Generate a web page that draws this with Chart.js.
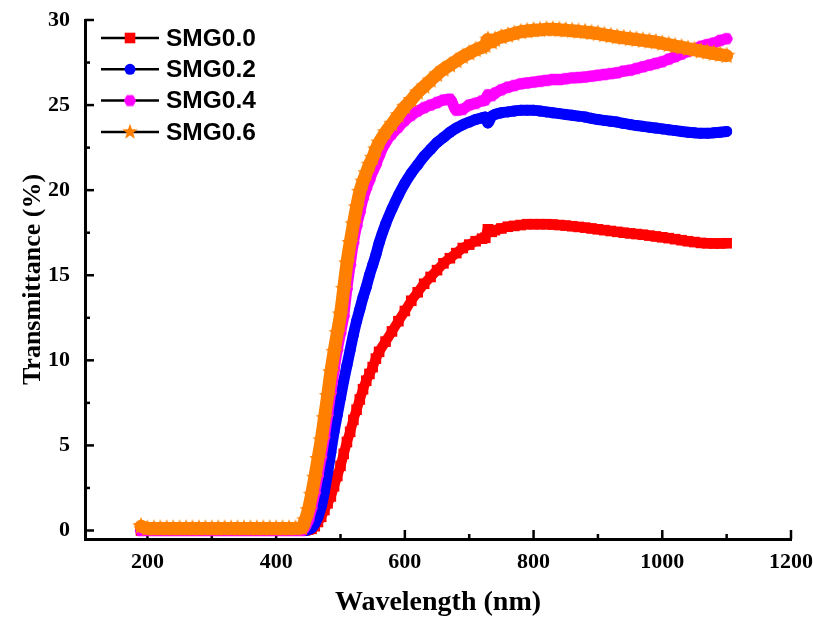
<!DOCTYPE html>
<html><head><meta charset="utf-8">
<script src="https://cdn.jsdelivr.net/npm/chart.js@4.4.1/dist/chart.umd.min.js"></script>
<style>html,body{margin:0;padding:0;background:#fff;}#wrap{width:813px;height:617px;}</style>
</head><body><div id="wrap"><canvas id="c" width="813" height="617"></canvas></div>
<script>
const seriesNames = ['SMG0.0', 'SMG0.2', 'SMG0.4', 'SMG0.6'];
const X_TICKS = [200, 400, 600, 800, 1000, 1200];
const X_MINOR = [300, 500, 700, 900, 1100];
const Y_TICKS = [0, 5, 10, 15, 20, 25, 30];
const Y_MINOR = [2.5, 7.5, 12.5, 17.5, 22.5, 27.5];

const wavelengths = [
  190,200,210,220,230,240,250,260,270,280,290,300,310,320,330,340,350,360,370,380,390,400,410,420,430,440,
  445,450,455,460,465,470,475,480,485,490,495,500,505,510,515,520,525,530,535,540,545,550,555,560,
  570,580,590,600,610,620,630,640,650,660,670,680,690,700,710,720,
  725,729,735,
  740,750,760,770,780,790,800,810,820,830,840,850,860,870,880,890,900,910,920,930,940,950,960,970,980,990,1000,1010,1020,1030,1040,1050,1060,1070,1080,1090,1100
];

const smg00 = [
  0,0,0,0,0,0,0,0,0,0,0,0,0,0,0,0,0,0,0,0,0,0,0,0,0,0,
  0.0,0.05,0.1,0.25,0.5,0.8,1.2,1.6,2.0,2.6,3.2,3.8,4.5,5.2,5.8,6.5,7.1,7.7,8.3,8.8,9.2,9.6,10.1,10.5,
  11.1,11.7,12.3,12.9,13.5,14.0,14.5,14.9,15.3,15.7,16.0,16.3,16.6,16.8,17.0,17.15,
  17.2,17.7,17.55,
  17.65,17.75,17.85,17.9,17.95,18.0,18.0,18.0,18.0,17.98,17.95,17.92,17.88,17.84,17.8,17.75,17.7,17.65,17.6,17.55,17.5,17.46,17.42,17.38,17.33,17.28,17.23,17.18,17.12,17.06,17.0,16.95,16.9,16.88,16.87,16.87,16.88
];

const smg02 = [
  0,0,0,0,0,0,0,0,0,0,0,0,0,0,0,0,0,0,0,0,0,0,0,0,0,0,
  0.0,0.05,0.15,0.4,0.8,1.4,2.3,3.4,4.6,5.8,6.8,7.8,8.8,9.7,10.6,11.5,12.3,13.0,13.7,14.3,15.0,15.6,16.2,16.9,
  18.0,18.9,19.7,20.4,21.0,21.5,22.0,22.4,22.8,23.1,23.4,23.65,23.85,24.0,24.15,24.25,
  24.3,23.95,24.35,
  24.45,24.55,24.6,24.65,24.7,24.7,24.7,24.65,24.6,24.55,24.5,24.45,24.4,24.35,24.3,24.22,24.15,24.1,24.05,24.0,23.92,23.86,23.8,23.75,23.7,23.65,23.6,23.55,23.5,23.45,23.4,23.37,23.35,23.35,23.37,23.4,23.45
];

const smg04 = [
  0,0,0,0,0,0,0,0,0,0,0,0,0,0,0,0,0,0,0,0,0,0,0,0,0,0,
  0.2,0.6,1.3,2.2,3.2,4.3,5.5,6.8,8.1,9.4,10.6,11.6,12.6,14.2,15.6,16.9,17.9,18.7,19.5,20.1,20.6,21.1,21.5,22.0,
  22.8,23.3,23.7,24.1,24.4,24.65,24.85,25.0,25.15,25.3,25.35,24.7,24.75,25.0,25.1,25.25,
  25.3,25.6,25.55,
  25.7,25.9,26.05,26.15,26.25,26.3,26.35,26.4,26.45,26.5,26.5,26.55,26.6,26.62,26.65,26.7,26.75,26.8,26.85,26.9,27.0,27.05,27.15,27.25,27.35,27.45,27.55,27.7,27.85,28.0,28.15,28.3,28.45,28.55,28.65,28.8,28.9
];

const smg06 = [
  0.25,0.12,0.12,0.12,0.12,0.12,0.12,0.12,0.12,0.12,0.12,0.12,0.12,0.12,0.12,0.12,0.12,0.12,0.12,0.12,0.12,0.12,0.12,0.12,0.12,0.15,
  0.6,1.2,2.1,3.1,4.2,5.3,6.6,7.9,9.3,10.5,11.6,12.7,14.2,15.7,16.9,18.0,19.0,19.9,20.5,21.0,21.5,21.9,22.4,22.8,
  23.4,23.9,24.4,24.9,25.3,25.75,26.1,26.45,26.8,27.1,27.35,27.6,27.85,28.05,28.25,28.4,
  28.5,28.85,28.7,
  28.85,29.0,29.1,29.2,29.3,29.35,29.4,29.42,29.45,29.45,29.43,29.4,29.37,29.33,29.3,29.25,29.2,29.13,29.07,29.0,28.95,28.9,28.85,28.8,28.75,28.7,28.62,28.55,28.47,28.4,28.32,28.25,28.17,28.1,28.03,27.97,27.9
];

const seriesValues = [smg00, smg02, smg04, smg06];
const seriesColors = ['#FF0000', '#0000FF', '#FF00FF', '#FF8000'];

function starPath(g, cx, cy, R, r) {
  g.beginPath();
  for (let i = 0; i < 10; i++) {
    const a = -Math.PI / 2 + i * Math.PI / 5;
    const rad = i % 2 ? r : R;
    g.lineTo(cx + rad * Math.cos(a), cy + rad * Math.sin(a));
  }
  g.closePath();
}
function hexPath(g, cx, cy, R) {
  g.beginPath();
  for (let i = 0; i < 6; i++) {
    const a = i * Math.PI / 3;
    g.lineTo(cx + R * Math.cos(a), cy + R * Math.sin(a));
  }
  g.closePath();
}
function makeImg(size, fn) {
  const c = document.createElement('canvas');
  c.width = size; c.height = size;
  fn(c.getContext('2d'), size / 2, size / 2);
  return c;
}
const starImg = makeImg(20, (g, cx, cy) => { starPath(g, cx, cy, 9.2, 3.9); g.fillStyle = seriesColors[3]; g.fill(); });
const hexImg = makeImg(14, (g, cx, cy) => { hexPath(g, cx, cy, 6.3); g.fillStyle = seriesColors[2]; g.fill(); });
const starLegendImg = makeImg(18, (g, cx, cy) => { starPath(g, cx, cy, 8.2, 3.4); g.fillStyle = seriesColors[3]; g.fill(); });

const pointStyles = ['rect', 'circle', hexImg, starImg];
const legendStyles = ['rect', 'circle', hexImg, starLegendImg];
const pointRadii = [7.5, 5.5, 6, 8];
const lineWidths = [10, 11, 11, 13];
const drawOrder = [3, 2, 1, 0];

const datasets = seriesNames.map((name, i) => ({
  label: name,
  data: wavelengths.map((w, k) => ({ x: w, y: seriesValues[i][k] })),
  borderColor: seriesColors[i],
  backgroundColor: seriesColors[i],
  borderWidth: lineWidths[i],
  borderJoinStyle: 'round',
  borderCapStyle: 'round',
  pointStyle: pointStyles[i],
  pointRadius: pointRadii[i],
  pointBackgroundColor: seriesColors[i],
  pointBorderWidth: 0,
  cubicInterpolationMode: 'monotone',
  fill: false,
  order: drawOrder[i]
}));

const innerTicks = {
  id: 'innerTicks',
  beforeDatasetsDraw(chart) {
    const { ctx, chartArea: a, scales: { x, y } } = chart;
    ctx.save();
    ctx.strokeStyle = '#000';
    ctx.lineWidth = 2.5;
    const seg = (x1, y1, x2, y2) => { ctx.beginPath(); ctx.moveTo(x1, y1); ctx.lineTo(x2, y2); ctx.stroke(); };
    X_TICKS.forEach(v => { const p = x.getPixelForValue(v); seg(p, a.bottom, p, a.bottom - 9); });
    X_MINOR.forEach(v => { const p = x.getPixelForValue(v); seg(p, a.bottom, p, a.bottom - 5); });
    Y_TICKS.forEach(v => { const p = y.getPixelForValue(v); seg(a.left, p, a.left + 9, p); });
    Y_MINOR.forEach(v => { const p = y.getPixelForValue(v); seg(a.left, p, a.left + 5, p); });
    ctx.restore();
  }
};

const boxLegend = {
  id: 'boxLegend',
  afterDatasetsDraw(chart) {
    const { ctx, chartArea: a } = chart;
    ctx.save();
    chart.data.datasets.forEach((ds, i) => {
      const yy = a.top + 18 + i * 31.3;
      const x0 = a.left + 16, x1 = a.left + 74, xm = a.left + 45;
      ctx.strokeStyle = '#000';
      ctx.lineWidth = 2.5;
      ctx.beginPath(); ctx.moveTo(x0, yy); ctx.lineTo(x1, yy); ctx.stroke();
      ctx.fillStyle = seriesColors[i];
      const st = legendStyles[i];
      if (st === 'rect') {
        ctx.fillRect(xm - 5.3, yy - 5.3, 10.6, 10.6);
      } else if (st === 'circle') {
        ctx.beginPath(); ctx.arc(xm, yy, 5.5, 0, Math.PI * 2); ctx.fill();
      } else {
        ctx.drawImage(st, xm - st.width / 2, yy - st.height / 2);
      }
      ctx.fillStyle = '#000';
      ctx.font = 'bold 24.5px "Liberation Sans", Arial, sans-serif';
      ctx.textAlign = 'left';
      ctx.textBaseline = 'middle';
      ctx.fillText(ds.label, a.left + 81, yy + 1);
    });
    ctx.restore();
  }
};

const serif = '"Liberation Serif", "Times New Roman", serif';

new Chart(document.getElementById('c'), {
  type: 'line',
  data: { datasets },
  options: {
    responsive: false,
    animation: false,
    devicePixelRatio: 1,
    events: [],
    layout: { padding: { left: 18, right: 22, top: 20, bottom: 0 } },
    plugins: { legend: { display: false }, tooltip: { enabled: false } },
    scales: {
      x: {
        type: 'linear', min: 103, max: 1200,
        afterBuildTicks: s => { s.ticks = X_TICKS.map(v => ({ value: v })); },
        afterFit: s => { s.height = 78; s.paddingLeft = 0; s.paddingRight = 0; },
        grid: { display: false, drawTicks: false },
        border: { display: true, color: '#000', width: 3 },
        ticks: { color: '#000', padding: 10, maxRotation: 0, autoSkip: false,
                 font: { family: serif, size: 22, weight: 'bold' }, callback: v => String(v) },
        title: { display: true, text: 'Wavelength (nm)', color: '#000', padding: { top: 0, bottom: 0 },
                 font: { family: serif, size: 28, weight: 'bold', lineHeight: 1.05 } }
      },
      y: {
        type: 'linear', min: -0.5, max: 30,
        afterBuildTicks: s => { s.ticks = Y_TICKS.map(v => ({ value: v })); },
        afterFit: s => { s.width = 67; s.paddingTop = 0; s.paddingBottom = 0; },
        grid: { display: false, drawTicks: false },
        border: { display: true, color: '#000', width: 3 },
        ticks: { color: '#000', padding: 15, autoSkip: false,
                 font: { family: serif, size: 22, weight: 'bold' }, callback: v => String(v) },
        title: { display: true, text: 'Transmittance (%)', color: '#000', padding: { top: 0, bottom: 0 },
                 font: { family: serif, size: 26, weight: 'bold', lineHeight: 1.2 } }
      }
    }
  },
  plugins: [innerTicks, boxLegend]
});
</script>
</body></html>
